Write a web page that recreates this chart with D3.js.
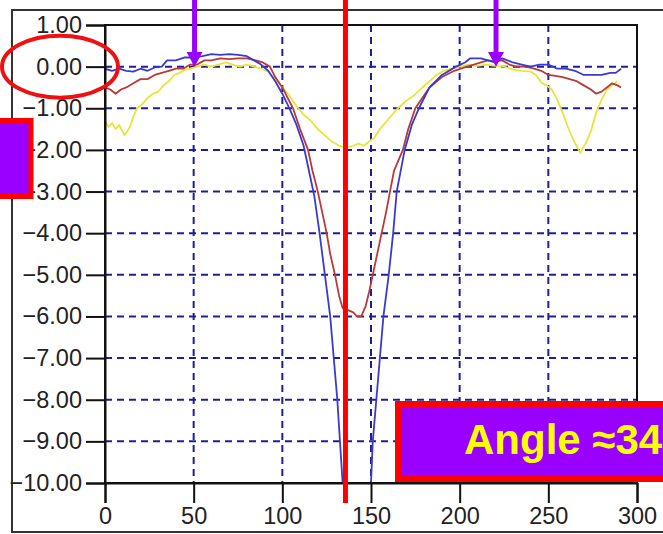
<!DOCTYPE html>
<html>
<head>
<meta charset="utf-8">
<script src="https://cdn.jsdelivr.net/npm/d3@7"></script>
<style>
  html, body { margin: 0; padding: 0; background: #fff; overflow: hidden; }
  svg { display: block; }
</style>
</head>
<body>
<svg id="chart" width="663" height="534"></svg>
<script>
// ---------------- DATA ----------------
const xTicks = [0, 50, 100, 150, 200, 250, 300];
const yTicks = [1, 0, -1, -2, -3, -4, -5, -6, -7, -8, -9, -10];

const blueX = [0,4,8,12,16,20,24,28,32,35,40,45,50,55,60,65,70,75,80,84,88,92,96,100,104,108,112,115,118,121,124,127,129,131,132.5,134,135,149,150,151,153,155,157,160,162.5,164.5,169,173,177,183,190,198,203,206,212,216,220,224,230,235,240,245,250,255,260,265,270,275,280,285,288,291];
const blueY = [-0.05,-0.1,-0.05,-0.1,-0.12,-0.05,-0.1,-0.02,0.0,0.15,0.15,0.22,0.22,0.25,0.3,0.28,0.3,0.28,0.25,0.15,0.05,-0.1,-0.35,-0.65,-1.0,-1.4,-1.9,-2.5,-3.1,-4.0,-5.0,-6.0,-7.0,-8.0,-9.0,-10.0,-10.6,-10.6,-10.0,-9.0,-8.0,-7.0,-6.0,-5.0,-4.0,-3.0,-2.0,-1.4,-1.0,-0.5,-0.2,0.0,0.1,0.2,0.2,0.15,0.1,0.2,0.1,0.05,0.0,0.05,0.05,-0.05,-0.05,-0.1,-0.2,-0.2,-0.2,-0.15,-0.15,-0.05];

const redX = [0,3,6,9,12,16,20,24,28,32,36,40,44,48,52,56,60,65,70,75,80,85,89,93,96,100,103,106,110,114.5,117,120,122.5,125,127,129.7,132,134,137,140,142,144.5,147,149,151,153.5,156,158.5,160.7,163,168,171,175,179,183,190,197,204,208,212,216,220,224,228,232,237,242,246,250,254,258,262,266,270,274,277,280,283,286,289,291];
const redY = [-0.5,-0.55,-0.65,-0.55,-0.5,-0.4,-0.3,-0.3,-0.2,-0.15,-0.1,-0.05,-0.05,0.05,0.05,0.15,0.15,0.2,0.18,0.2,0.2,0.15,0.1,0.0,-0.25,-0.5,-0.75,-1.0,-1.5,-2.0,-2.5,-3.0,-3.5,-4.0,-4.5,-5.0,-5.5,-5.8,-5.85,-5.9,-6.0,-6.0,-5.75,-5.4,-5.0,-4.5,-4.0,-3.5,-3.0,-2.5,-2.0,-1.5,-1.0,-0.75,-0.5,-0.25,-0.1,0.0,0.05,0.1,0.15,0.12,0.15,0.05,0.0,0.0,-0.05,-0.1,-0.2,-0.22,-0.25,-0.3,-0.35,-0.45,-0.55,-0.65,-0.6,-0.5,-0.4,-0.45,-0.5];

const yellowX = [0,2,4,6,8,11,14,16,18,21,24,27,30,33,36,39,42,45,48,52,56,60,64,68,72,76,80,84,88,92,96,100,104,108,112,116,120,124,128,132,136,140,143,146,149,152,155,158,161,164.5,169,174,179,183,187,191,195,200,205,210,215,220,225,230,235,240,243,246,249,252,255,258,261,264,268,271,274,277,280,283,286,289];
const yellowY = [-1.3,-1.45,-1.35,-1.5,-1.4,-1.65,-1.45,-1.2,-1.0,-0.9,-0.75,-0.65,-0.6,-0.45,-0.35,-0.2,-0.15,-0.08,-0.05,0.0,0.05,0.0,0.05,0.1,0.05,0.0,0.05,0.0,-0.05,-0.12,-0.3,-0.5,-0.7,-0.95,-1.15,-1.3,-1.5,-1.65,-1.8,-1.9,-1.95,-1.9,-1.85,-1.9,-1.8,-1.7,-1.5,-1.35,-1.2,-1.03,-0.85,-0.7,-0.5,-0.35,-0.2,-0.1,-0.05,0.0,0.05,0.02,0.05,0.02,0.0,-0.07,-0.1,-0.12,-0.2,-0.38,-0.45,-0.55,-0.8,-1.1,-1.45,-1.75,-2.07,-1.85,-1.55,-1.1,-0.8,-0.55,-0.45,-0.35];

const seriesNames = ["blue", "red", "yellow"];
const seriesColors = ["#3a3ad0", "#b83a3a", "#e6e63a"];

const arrowXs = [50.5, 220.5];   // arrow positions (x units)
const markerX = 135.6;           // red vertical marker (x units)
const boxLabel = "Angle \u224834";

// ---------------- LAYOUT ----------------
const svg = d3.select("#chart");
const x = d3.scaleLinear().domain([0, 300]).range([105, 637]);
const y = d3.scaleLinear().domain([-10, 1]).range([483, 25]);

// outer frame
svg.append("rect").attr("x", 12).attr("y", 10).attr("width", 700).attr("height", 522)
  .attr("fill", "#fff").attr("stroke", "#333").attr("stroke-width", 2);

// gridlines
const grid = svg.append("g").attr("stroke", "#1f1f92").attr("stroke-width", 2)
  .attr("stroke-dasharray", "7,5").attr("fill", "none");
grid.selectAll("line.h").data(yTicks.filter(v => v < 1 && v > -10)).join("line")
  .attr("x1", x(0)).attr("x2", x(300)).attr("y1", d => y(d)).attr("y2", d => y(d));
grid.selectAll("line.v").data(xTicks.filter(v => v > 0 && v < 300)).join("line")
  .attr("x1", d => x(d)).attr("x2", d => x(d)).attr("y1", y(1)).attr("y2", y(-10));

// clip
svg.append("clipPath").attr("id", "clip").append("rect")
  .attr("x", x(0)).attr("y", y(1)).attr("width", x(300) - x(0)).attr("height", y(-10) - y(1));

const seriesData = [
  blueX.map((v, i) => [v, blueY[i]]),
  redX.map((v, i) => [v, redY[i]]),
  yellowX.map((v, i) => [v, yellowY[i]])
];
const line = d3.line().x(d => x(d[0])).y(d => y(d[1])).curve(d3.curveLinear);
const lines = svg.append("g").attr("clip-path", "url(#clip)");
// draw yellow first, then red, then blue
[2, 1, 0].forEach(i => {
  lines.append("path").datum(seriesData[i]).attr("d", line)
    .attr("fill", "none").attr("stroke", seriesColors[i]).attr("stroke-width", 1.8)
    .attr("stroke-linejoin", "round");
});

// frame of plot
svg.append("rect").attr("x", x(0)).attr("y", y(1)).attr("width", x(300) - x(0)).attr("height", y(-10) - y(1))
  .attr("fill", "none").attr("stroke", "#111").attr("stroke-width", 2);

// axes
const fontFam = "'Liberation Sans', Arial, sans-serif";
const yAxis = svg.append("g").attr("transform", `translate(${x(0)},0)`)
  .call(d3.axisLeft(y).tickValues(yTicks).tickFormat(d3.format(".2f")).tickSize(19).tickPadding(4));
const xAxis = svg.append("g").attr("transform", `translate(0,${y(-10)})`)
  .call(d3.axisBottom(x).tickValues(xTicks).tickFormat(d3.format("d")).tickSize(20).tickPadding(4));
[yAxis, xAxis].forEach(a => {
  a.select(".domain").attr("stroke", "#111").attr("stroke-width", 2);
  a.selectAll(".tick line").attr("stroke", "#111").attr("stroke-width", 2);
  a.selectAll(".tick text").attr("fill", "#222").style("font-family", fontFam).style("font-size", "23.5px");
});

// ---------------- ANNOTATIONS ----------------
// red ellipse around 0.00
svg.append("ellipse").attr("cx", 60).attr("cy", y(0)).attr("rx", 58).attr("ry", 31)
  .attr("fill", "none").attr("stroke", "#ee1111").attr("stroke-width", 4);

// left purple box
svg.append("rect").attr("x", -12).attr("y", 120.5).attr("width", 43).attr("height", 76)
  .attr("fill", "#9900ff").attr("stroke", "#ff0000").attr("stroke-width", 5);

// red vertical marker
svg.append("line").attr("x1", x(markerX)).attr("x2", x(markerX)).attr("y1", 0).attr("y2", 503)
  .attr("stroke", "#ff0000").attr("stroke-width", 5);

// purple arrows
arrowXs.forEach(ax => {
  const px = x(ax);
  svg.append("line").attr("x1", px).attr("x2", px).attr("y1", 0).attr("y2", 53)
    .attr("stroke", "#9900ff").attr("stroke-width", 5);
  svg.append("path").attr("d", `M${px - 8},52 L${px + 8},52 L${px},${y(0)} Z`).attr("fill", "#9900ff");
});

// bottom-right label box
svg.append("rect").attr("x", 398).attr("y", 404).attr("width", 300).attr("height", 75)
  .attr("fill", "#9900ff").attr("stroke", "#ff0000").attr("stroke-width", 6);
svg.append("text").attr("x", 464).attr("y", 454).text(boxLabel)
  .attr("fill", "#ffff00").style("font-family", fontFam).style("font-weight", "bold").style("font-size", "42px");
</script>
</body>
</html>
